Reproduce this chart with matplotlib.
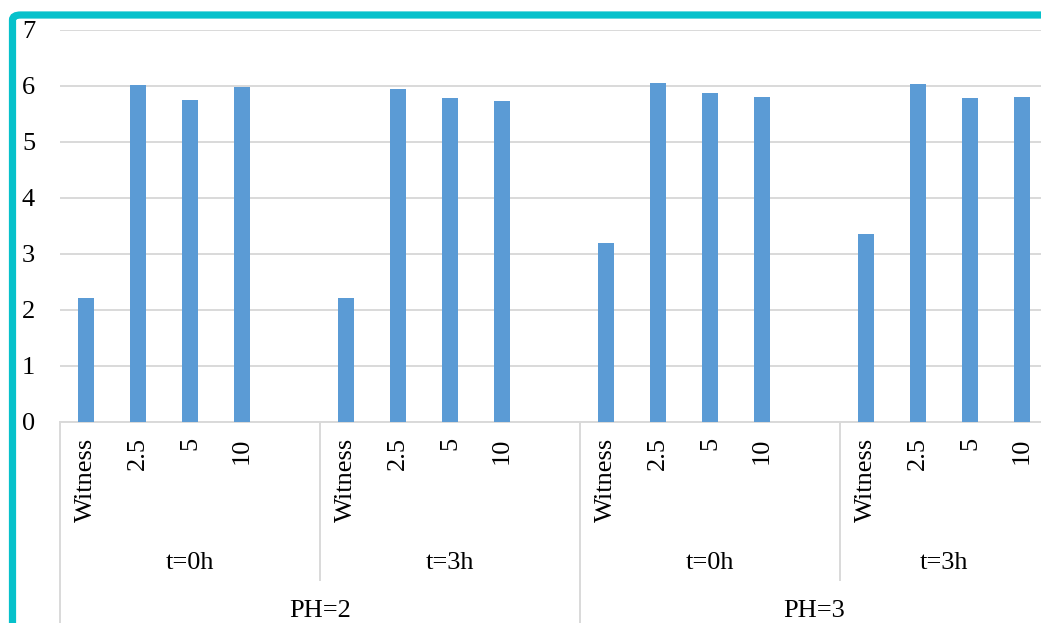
import matplotlib.pyplot as plt
from matplotlib.patches import FancyBboxPatch

# pH / time / dose series
doses = ['Witness', '2.5', '5', '10']
ph2_t0 = [2.22, 6.02, 5.75, 5.98]
ph2_t3 = [2.22, 5.95, 5.78, 5.73]
ph3_t0 = [3.19, 6.05, 5.87, 5.81]
ph3_t3 = [3.35, 6.04, 5.79, 5.81]
time_labels = ['t=0h', 't=3h', 't=0h', 't=3h']
ph_labels = ['PH=2', 'PH=3']

plt.rcParams['font.family'] = ['Liberation Serif', 'DejaVu Serif']
plt.rcParams['font.size'] = 19

bar_color = '#5B9BD5'
grid_color = '#D9D9D9'
border_color = '#06C1CB'

# every subgroup gets a blank slot after it, except the last one
series = [ph2_t0, ph2_t3, ph3_t0, ph3_t3]
positions, heights, labels = [], [], []
group_edges = [-0.5]
pos = 0
for i, vals in enumerate(series):
    for d, v in zip(doses, vals):
        positions.append(pos)
        heights.append(v)
        labels.append(d)
        pos += 1
    if i < len(series) - 1:
        pos += 1
    group_edges.append(pos - 0.5)
n_slots = pos

W, H = 1041, 623
fig = plt.figure(figsize=(W / 100, H / 100), dpi=100)
ax = fig.add_axes([60 / W, (H - 422) / H, (1048 - 60) / W, (422 - 30) / H])

ax.bar(positions, heights, width=0.31, color=bar_color, zorder=3)
ax.set_xlim(-0.5, n_slots - 0.5)
ax.set_ylim(0, 7)
ax.set_yticks(range(8))
ax.yaxis.grid(True, color=grid_color, linewidth=1.4, zorder=0)
ax.tick_params(axis='y', length=0, pad=18)

ax.set_xticks(positions)
ax.set_xticklabels(labels, rotation=90)
ax.tick_params(axis='x', length=0, pad=11)

for side in ['top', 'right', 'left']:
    ax.spines[side].set_visible(False)
ax.spines['bottom'].set_color(grid_color)
ax.spines['bottom'].set_linewidth(1.4)

# multi-level category axis: separators and group labels
ax_h = 422 - 30
trans = ax.get_xaxis_transform()
t_bottom = -(580 - 422) / ax_h
ph_bottom = -(640 - 422) / ax_h
ph_bounds = [group_edges[0], group_edges[2], group_edges[4]]
for x in group_edges:
    y_end = ph_bottom if x in ph_bounds else t_bottom
    ax.plot([x, x], [0, y_end], transform=trans, color=grid_color,
            linewidth=1.4, clip_on=False)

for i, lab in enumerate(time_labels):
    xc = (group_edges[i] + group_edges[i + 1]) / 2
    ax.text(xc, -(563 - 422) / ax_h, lab, transform=trans,
            ha='center', va='center')
for i, lab in enumerate(ph_labels):
    xc = (ph_bounds[i] + ph_bounds[i + 1]) / 2
    ax.text(xc, -(611 - 422) / ax_h, lab, transform=trans,
            ha='center', va='center')

# rounded frame around the chart area
frame = FancyBboxPatch((12.5 / W, -0.2), 1.2, 1.2 - 15 / H,
                       boxstyle='round,pad=0,rounding_size=0.008',
                       transform=fig.transFigure, facecolor='none',
                       edgecolor=border_color, linewidth=5.2, clip_on=False)
fig.patches.append(frame)

fig.savefig('out.png', dpi=100)
